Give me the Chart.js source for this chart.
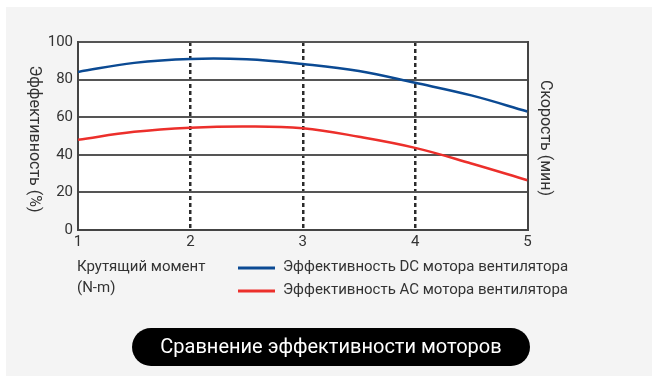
<!DOCTYPE html>
<html>
<head>
<meta charset="utf-8">
<script src="https://cdn.jsdelivr.net/npm/chart.js@4"></script>
<style>
  html, body { margin: 0; padding: 0; background: #ffffff; width: 652px; height: 376px; overflow: hidden; }
  #panel { position: absolute; left: 6px; top: 7px; width: 646px; height: 369px; background: #f4f4f4; }
  #c { position: absolute; left: 0; top: 0; }
</style>
</head>
<body>
<div id="panel"></div>
<canvas id="c" width="652" height="376"></canvas>
<script>
// ---- data ----
const torque = [1, 1.5, 2, 2.5, 3, 3.5, 4, 4.5, 5];
const dcEfficiency = [84.1, 88.9, 91.0, 90.8, 88.3, 84.6, 78.3, 71.6, 63.0];
const acEfficiency = [48.0, 52.2, 54.4, 55.1, 54.1, 49.6, 43.7, 35.4, 26.5];
const xTickValues = [1, 2, 3, 4, 5];
const yTickValues = [0, 20, 40, 60, 80, 100];
const seriesLabels = ['Эффективность DC мотора вентилятора', 'Эффективность AC мотора вентилятора'];
const seriesColors = ['#0b4a93', '#ec2f2b'];
const yTitle = 'Эффективность (%)';
const y2Title = 'Скорость (мин)';
const xTitleLines = ['Крутящий момент', '(N-m)'];
const chartTitle = 'Сравнение эффективности моторов';

const FONT = 'Roboto, "Noto Sans", sans-serif';
const TEXT = '#333333';

const decorPlugin = {
  id: 'decor',
  beforeDraw(chart) {
    const {ctx, chartArea: a} = chart;
    ctx.save();
    ctx.fillStyle = '#ffffff';
    ctx.fillRect(a.left, a.top, a.right - a.left, a.bottom - a.top);
    ctx.restore();
  },
  afterDraw(chart) {
    const {ctx, chartArea: a} = chart;
    ctx.save();
    ctx.fillStyle = TEXT;
    ctx.font = '16px ' + FONT;
    ctx.textAlign = 'center';
    ctx.textBaseline = 'middle';
    // left axis title (rotated clockwise)
    ctx.save();
    ctx.translate(34, 139);
    ctx.rotate(Math.PI / 2);
    ctx.fillText(yTitle, 0, 0);
    ctx.restore();
    // right axis title
    ctx.save();
    ctx.translate(545, 138);
    ctx.rotate(Math.PI / 2);
    ctx.fillText(y2Title, 0, 0);
    ctx.restore();
    // x axis title
    ctx.font = '15px ' + FONT;
    ctx.textAlign = 'left';
    ctx.fillText(xTitleLines[0], 77, 267);
    ctx.fillText(xTitleLines[1], 77, 288);
    // legend
    chart.data.datasets.forEach((ds, i) => {
      const y = 267 + i * 23;
      ctx.strokeStyle = ds.borderColor;
      ctx.lineWidth = 3;
      ctx.beginPath();
      ctx.moveTo(238, y + 1);
      ctx.lineTo(275, y + 1);
      ctx.stroke();
      ctx.fillStyle = TEXT;
      ctx.fillText(ds.label, 283, y);
    });
    // title pill
    const px = 132, py = 328, pw = 398, ph = 38, r = 19;
    ctx.fillStyle = '#000000';
    ctx.beginPath();
    ctx.moveTo(px + r, py);
    ctx.lineTo(px + pw - r, py);
    ctx.arc(px + pw - r, py + r, r, -Math.PI / 2, Math.PI / 2);
    ctx.lineTo(px + r, py + ph);
    ctx.arc(px + r, py + r, r, Math.PI / 2, Math.PI * 1.5);
    ctx.closePath();
    ctx.fill();
    ctx.fillStyle = '#ffffff';
    ctx.font = '20px ' + FONT;
    ctx.textAlign = 'center';
    ctx.fillText(chartTitle, px + pw / 2, py + ph / 2 + 1);
    ctx.restore();
  }
};

new Chart(document.getElementById('c'), {
  type: 'line',
  data: {
    datasets: [
      { label: seriesLabels[0], data: torque.map((x, i) => ({x, y: dcEfficiency[i]})),
        borderColor: seriesColors[0], borderWidth: 2.5, pointRadius: 0, tension: 0.4, fill: false },
      { label: seriesLabels[1], data: torque.map((x, i) => ({x, y: acEfficiency[i]})),
        borderColor: seriesColors[1], borderWidth: 2.5, pointRadius: 0, tension: 0.4, fill: false }
    ]
  },
  options: {
    responsive: false,
    animation: false,
    layout: { padding: { top: 42, left: 0, right: 0, bottom: 0 } },
    plugins: { legend: { display: false }, tooltip: { enabled: false } },
    scales: {
      x: {
        type: 'linear', min: 1, max: 5,
        afterBuildTicks: s => { s.ticks = xTickValues.map(v => ({value: v})); },
        afterFit: s => { s.height = 146; },
        ticks: { color: TEXT, font: { size: 15, family: FONT }, padding: 3, maxRotation: 0 },
        grid: {
          drawTicks: false, lineWidth: 2.5,
          color: c => (c.tick && (c.tick.value === 1 || c.tick.value === 5)) ? 'rgba(0,0,0,0)' : '#2b2b2b'
        },
        border: { display: true, color: '#444444', width: 2, dash: [4, 3] }
      },
      y: {
        position: 'left', min: 0, max: 100,
        afterBuildTicks: s => { s.ticks = yTickValues.map(v => ({value: v})); },
        afterFit: s => { s.width = 78; },
        ticks: { color: TEXT, font: { size: 15, family: FONT }, padding: 5 },
        grid: { drawTicks: false, lineWidth: 2, color: '#555555' },
        border: { display: true, color: '#444444', width: 2 }
      },
      y2: {
        position: 'right', min: 0, max: 100,
        afterFit: s => { s.width = 124.5; },
        ticks: { display: false },
        grid: { display: false, drawOnChartArea: false },
        border: { display: true, color: '#444444', width: 2 }
      }
    }
  },
  plugins: [decorPlugin]
});
</script>
</body>
</html>
